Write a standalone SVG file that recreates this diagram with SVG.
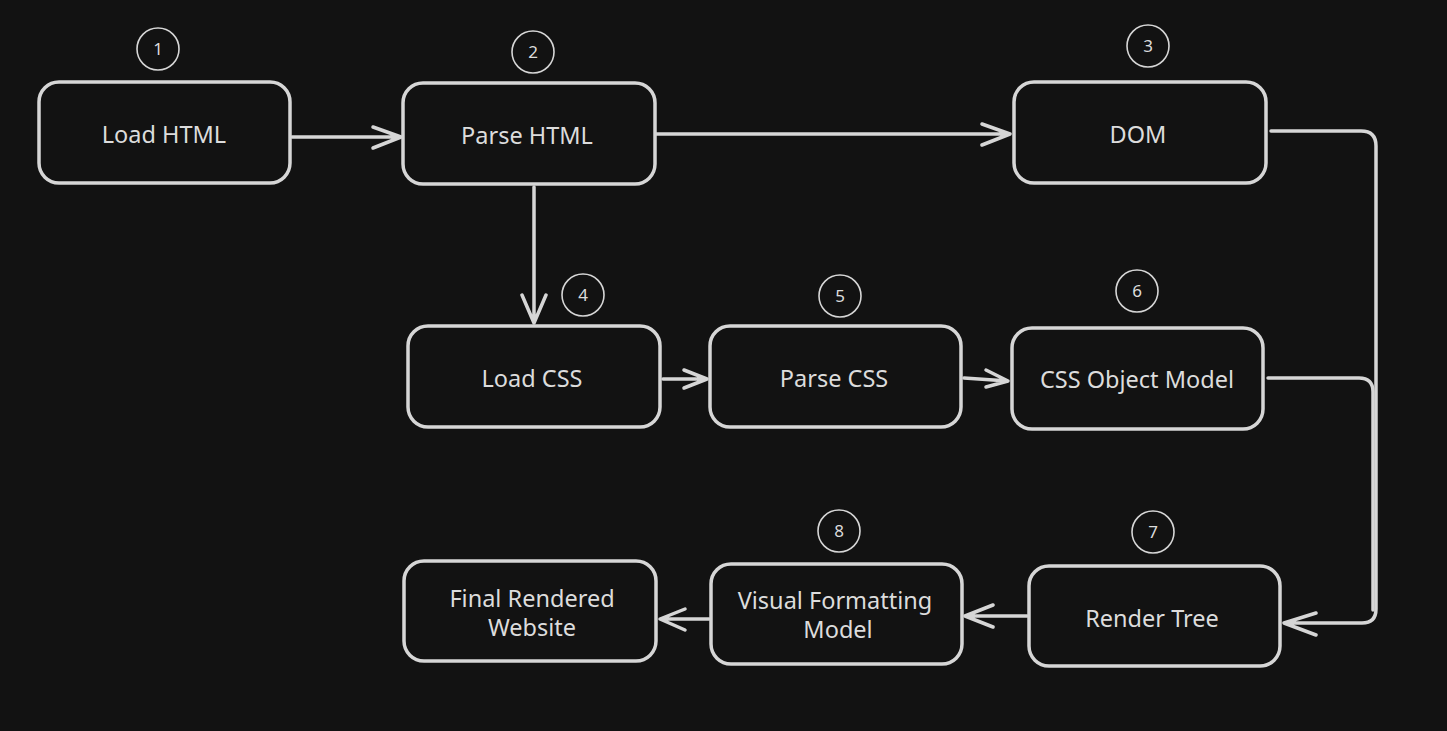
<svg xmlns="http://www.w3.org/2000/svg" width="1447" height="731" viewBox="0 0 1447 731">
<style>
.bg{fill:#121212}
.box{fill:#121212;stroke:#d6d6d6;stroke-width:3.5}
.num{fill:none;stroke:#d6d6d6;stroke-width:1.6}
.t{font-family:"Noto Sans","Open Sans",sans-serif;font-size:23.5px;fill:#dcdcdc;text-anchor:middle}
.n{font-family:"Noto Sans","Open Sans",sans-serif;font-size:17px;fill:#dcdcdc;text-anchor:middle}
.c{fill:none;stroke:#d6d6d6;stroke-width:3.5;stroke-linecap:round;stroke-linejoin:round}
</style>
<rect class="bg" x="0" y="0" width="1447" height="731"/>
<g id="connectors">
<path class="c" d="M292 137 L401 137 M373 127 L401 137 L373 148"/>
<path class="c" d="M656 134 L1010 134 M982 124 L1010 134 L982 145"/>
<path class="c" d="M534 187 L534 323 M522 295 L534 323 L546 295"/>
<path class="c" d="M663 379 L707 379 M684 370 L707 379 L684 388"/>
<path class="c" d="M964 378 L1008 381 M986 370 L1008 381 L986 387"/>
<path class="c" d="M1271 131 L1361 131 Q1376 131 1376 146 L1376 609 Q1376 623 1362 623 L1284 623 M1316 613 L1284 623 L1316 635"/>
<path class="c" d="M1268 378 L1359 378 Q1373 378 1373 392 L1373 610"/>
<path class="c" d="M1027 616 L965 616 M993 605 L965 616 L993 627"/>
<path class="c" d="M709 619 L660 619 M685 609 L660 619 L685 630"/>
</g>
<g id="node1">
<rect class="box" x="39" y="82" width="251" height="101" rx="20"/>
<text class="t" x="164" y="143">Load HTML</text>
<circle class="num" cx="158" cy="49" r="21"/><text class="n" x="158" y="55">1</text>
</g>
<g id="node2">
<rect class="box" x="403" y="83" width="252" height="101" rx="20"/>
<text class="t" x="527" y="144">Parse HTML</text>
<circle class="num" cx="533" cy="52" r="21"/><text class="n" x="533" y="58">2</text>
</g>
<g id="node3">
<rect class="box" x="1014" y="82" width="252" height="101" rx="20"/>
<text class="t" x="1138" y="143">DOM</text>
<circle class="num" cx="1148" cy="46" r="21"/><text class="n" x="1148" y="52">3</text>
</g>
<g id="node4">
<rect class="box" x="408" y="326" width="252" height="101" rx="20"/>
<text class="t" x="532" y="387">Load CSS</text>
<circle class="num" cx="583" cy="295" r="21"/><text class="n" x="583" y="301">4</text>
</g>
<g id="node5">
<rect class="box" x="710" y="326" width="251" height="101" rx="20"/>
<text class="t" x="834" y="387">Parse CSS</text>
<circle class="num" cx="840" cy="296" r="21"/><text class="n" x="840" y="302">5</text>
</g>
<g id="node6">
<rect class="box" x="1012" y="328" width="251" height="101" rx="20"/>
<text class="t" x="1137" y="388">CSS Object Model</text>
<circle class="num" cx="1137" cy="291" r="21"/><text class="n" x="1137" y="297">6</text>
</g>
<g id="node7">
<rect class="box" x="1029" y="566" width="251" height="100" rx="20"/>
<text class="t" x="1152" y="627">Render Tree</text>
<circle class="num" cx="1153" cy="532" r="21"/><text class="n" x="1153" y="538">7</text>
</g>
<g id="node8">
<rect class="box" x="711" y="564" width="251" height="100" rx="20"/>
<text class="t" x="835" y="609">Visual Formatting</text>
<text class="t" x="838" y="638">Model</text>
<circle class="num" cx="839" cy="531" r="21"/><text class="n" x="839" y="537">8</text>
</g>
<g id="node9">
<rect class="box" x="404" y="561" width="252" height="100" rx="20"/>
<text class="t" x="532" y="607">Final Rendered</text>
<text class="t" x="532" y="636">Website</text>
</g>
</svg>
